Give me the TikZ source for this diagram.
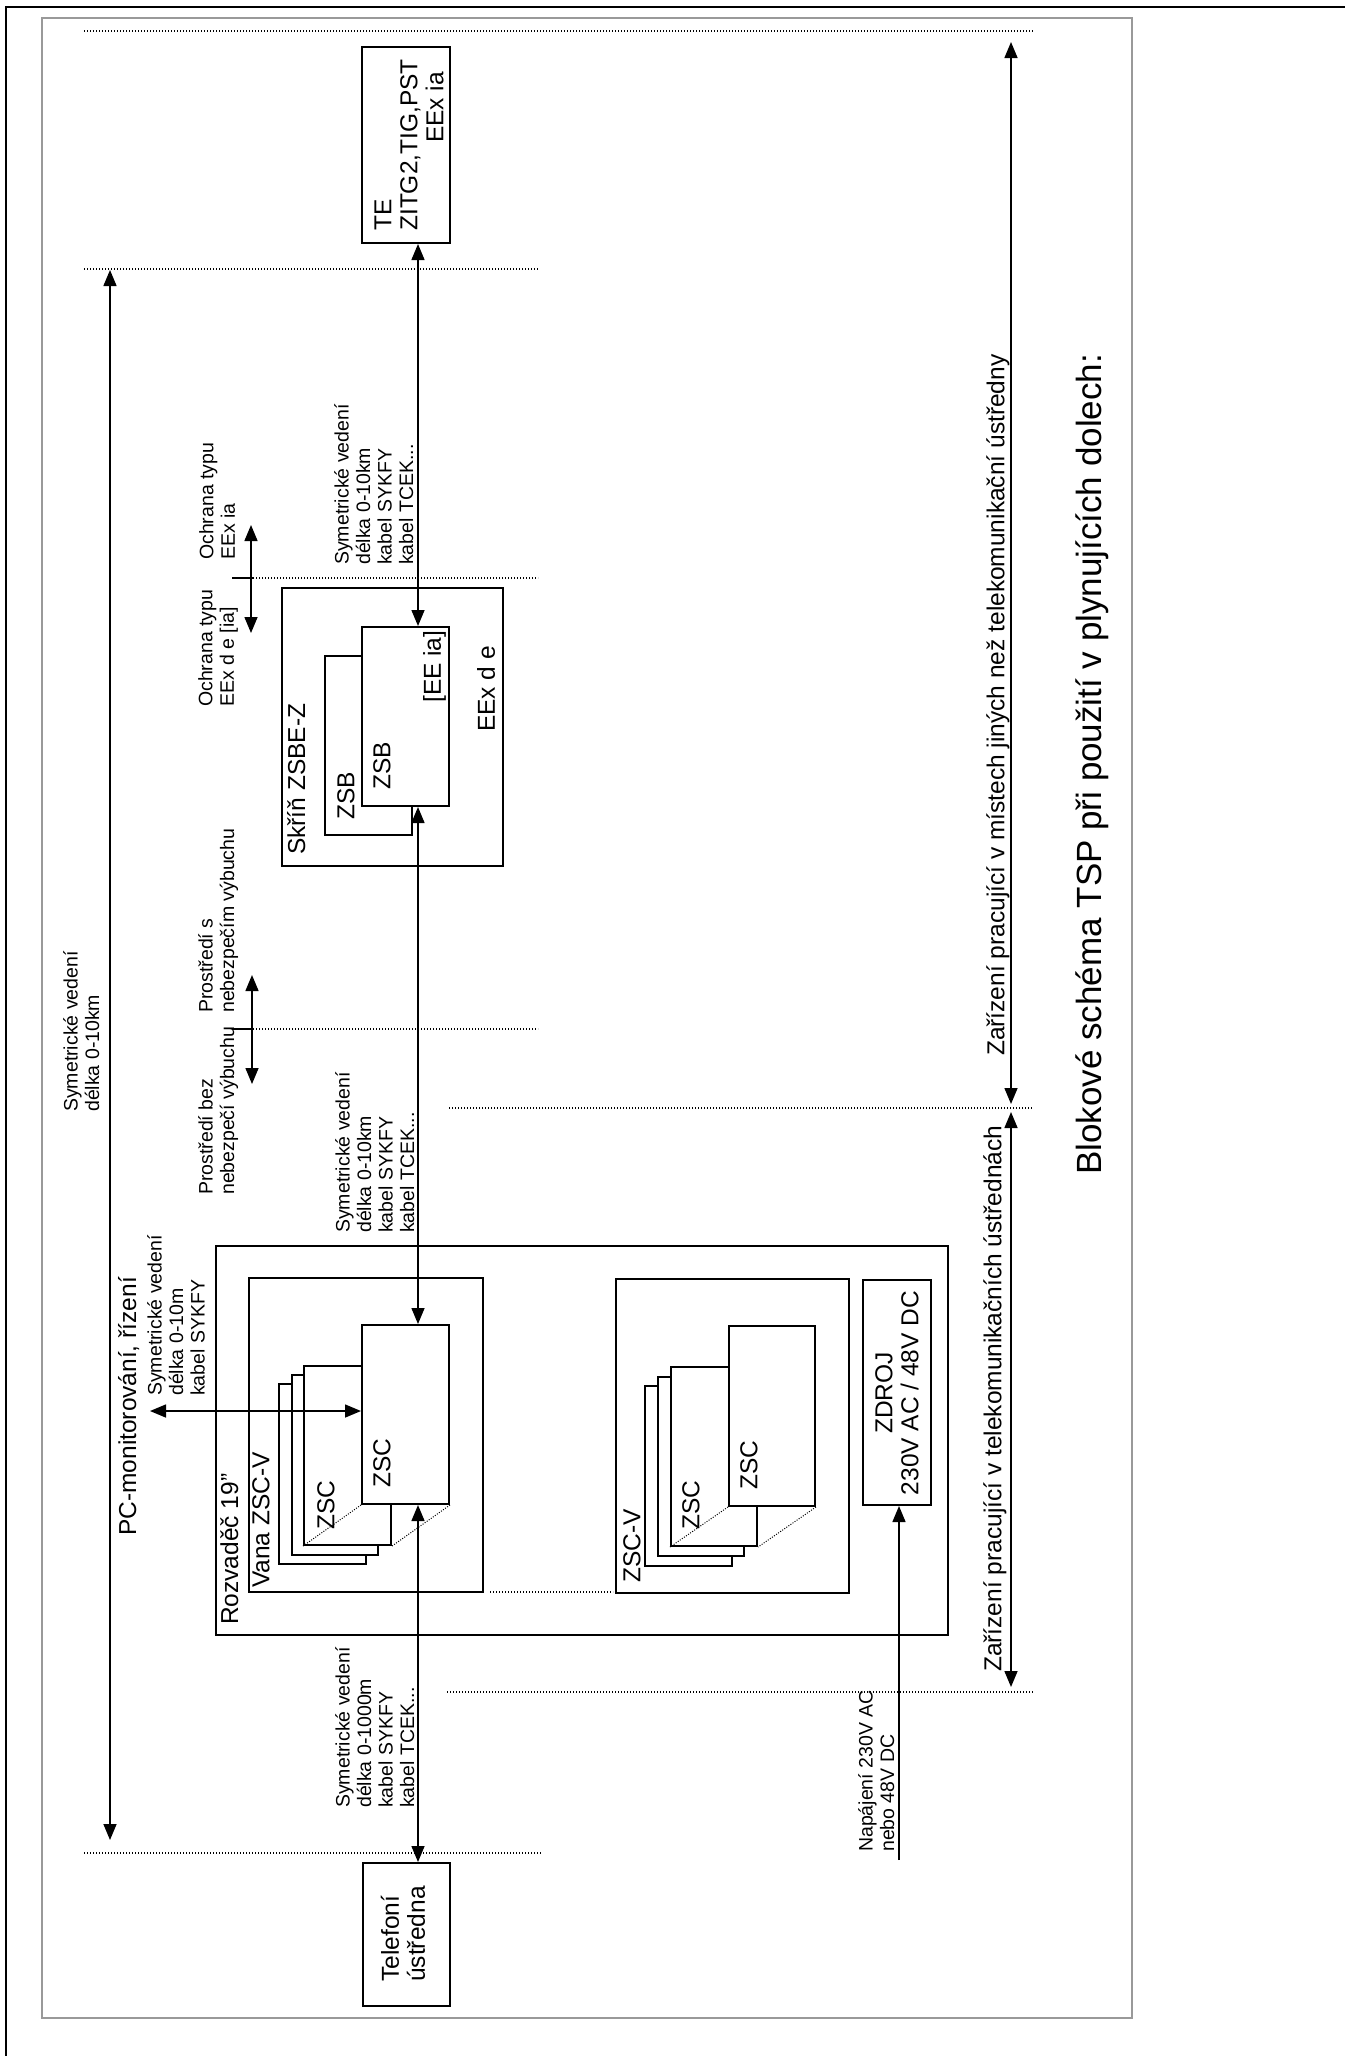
\documentclass[tikz,border=0pt]{standalone}
\usepackage{fontspec}
\setmainfont{Liberation Sans}
\usetikzlibrary{arrows.meta,fit}
\begin{document}
\begin{tikzpicture}[x=1pt,y=-1pt,
  box/.style={draw=black, line width=2pt, inner sep=0pt, fill=white},
  bigbox/.style={draw=black, line width=2pt, inner sep=0pt},
  ln/.style={line width=1.5pt},
  mytri/.tip={Triangle[length=16pt,width=13pt]},
  arr/.style={ln, mytri-mytri},
  arrend/.style={ln, -mytri},
  dotl/.style={line width=1.3pt, dash pattern=on 1.3pt off 1.7pt},
  thindot/.style={line width=1pt, dash pattern=on 1pt off 1.5pt},
  tickl/.style={line width=2pt},
  txtM/.style={rotate=90, anchor=north west, inner sep=0pt, align=left, font=\fontsize{19.5}{21.5}\selectfont},
  txtL/.style={rotate=90, anchor=north west, inner sep=0pt, align=left, font=\fontsize{24.5}{26}\selectfont},
  txtC/.style={rotate=90, anchor=center, inner sep=0pt, font=\fontsize{24.5}{26}\selectfont},
  txtT/.style={rotate=90, anchor=north west, inner sep=0pt, font=\fontsize{35}{40}\selectfont},
]
\useasboundingbox (0,0) rectangle (1345,2056);

% frames
\draw[draw=black!40, line width=1.3pt] (42,18) rectangle (1132,2018);
\draw[line width=2.3pt] (6,2056) -- (6,7) -- (1345,7);

% dotted separators
\draw[dotl] (84,31) -- (1033,31);
\draw[dotl] (84,269) -- (538,269);
\draw[dotl] (253,578) -- (538,578);
\draw[tickl] (232,578) -- (253,578);
\draw[dotl] (253,1029) -- (538,1029);
\draw[tickl] (232,1029) -- (253,1029);
\draw[dotl] (449,1108) -- (1033,1108);
\draw[dotl] (490,1592) -- (613,1592);
\draw[dotl] (447,1692) -- (1033,1692);
\draw[dotl] (84,1853) -- (541,1853);

% boxes
\node[box, fit={(362,47)(450,243)}] (te) {};
\node[box, fit={(363,1863)(450,2006)}] (tel) {};
\node[bigbox, fit={(282,588)(503,866)}] (zsbe) {};
\node[box, fit={(325,656)(412,835)}] (zsbB) {};
\node[box, fit={(362,627)(449,806)}] (zsbA) {};
\node[bigbox, fit={(216,1246)(948,1635)}] (rozv) {};
\node[bigbox, fit={(249,1278)(483,1592)}] (vana) {};
\node[bigbox, fit={(616,1279)(849,1593)}] (zscv) {};
\node[box, fit={(863,1280)(931,1505)}] (zdroj) {};

% stack 1
\node[box, fit={(279,1384)(366,1564)}] (zscD) {};
\node[box, fit={(292,1375)(378,1555)}] (zscC) {};
\node[box, fit={(304,1366)(391,1545)}] (zscB) {};
\node[box, fit={(362,1325)(449,1504)}] (zscA) {};
\draw[thindot] (zscA.south west) -- (zscB.south west);
\draw[thindot] (zscA.south east) -- (zscB.south east);

% stack 2
\node[box, fit={(645,1386)(732,1566)}] (zscDb) {};
\node[box, fit={(658,1377)(744,1556)}] (zscCb) {};
\node[box, fit={(671,1367)(757,1546)}] (zscBb) {};
\node[box, fit={(729,1326)(815,1506)}] (zscAb) {};
\draw[thindot] (zscAb.south west) -- (zscBb.south west);
\draw[thindot] (zscAb.south east) -- (zscBb.south east);

% box texts
\node[txtC, align=left] (telab) at (409,145) {TE\\ZITG2,TIG,PST\\\hspace*{88pt}EEx ia};
\node[txtC, align=left] (tellab) at (403,1934) {Telefoní\\ústředna};
\node[txtC, align=center] (zdlab) at (897,1393) {ZDROJ\\230V AC / 48V DC};
\node[txtL] (skrin) at (287,855) {Skříň ZSBE-Z};
\node[txtL] (zsbBl) at (337,820) {ZSB};
\node[txtL] (zsbAl) at (373,790) {ZSB};
\node[txtL] (eeia) at (423,703) {[EE ia]};
\node[txtL] (eexde) at (477,732) {EEx d e};
\node[txtL] (rozvl) at (220,1625) {Rozvaděč 19"};
\node[txtL] (vanal) at (252,1588) {Vana ZSC-V};
\node[txtL] (zscvl) at (623,1583) {ZSC-V};
\node[txtL] (zscBl) at (317,1530) {ZSC};
\node[txtL] (zscAl) at (373,1488) {ZSC};
\node[txtL] (zscBbl) at (682,1530) {ZSC};
\node[txtL] (zscAbl) at (740,1490) {ZSC};
\node[txtL] (pcl) at (118,1536) {PC-monitorování, řízení};
\node[txtL] (zar1) at (986,1056) {Zařízení pracující v místech jiných než telekomunikační ústředny};
\node[txtL] (zar2) at (983,1672) {Zařízení pracující v telekomunikačních ústřednách};
\node[txtT] (title) at (1076,1175) {Blokové schéma TSP při použití v plynujících dolech:};

% medium texts
\node[txtM] (m1) at (63,1112) {Symetrické vedení\\délka 0-10km};
\node[txtM] (m2) at (198,1013) {Prostředí s\\nebezpečím výbuchu};
\node[txtM] (m3) at (198,1195) {Prostředí bez\\nebezpečí výbuchu};
\node[txtM] (m4) at (198,707) {Ochrana typu\\EEx d e [ia]};
\node[txtM] (m5) at (199,560) {Ochrana typu\\EEx ia};
\node[txtM] (m6) at (334,565) {Symetrické vedení\\délka 0-10km\\kabel SYKFY\\kabel TCEK...};
\node[txtM] (m7) at (335,1233) {Symetrické vedení\\délka 0-10km\\kabel SYKFY\\kabel TCEK...};
\node[txtM] (m8) at (335,1808) {Symetrické vedení\\délka 0-1000m\\kabel SYKFY\\kabel TCEK...};
\node[txtM] (m9) at (147,1396) {Symetrické vedení\\délka 0-10m\\kabel SYKFY};
\node[txtM] (m10) at (858,1852) {Napájení 230V AC\\nebo 48V DC};

% connectors
\coordinate (vx) at (418,0);
\draw[arr] (te.south -| vx) -- (zsbA.north -| vx);
\draw[arr] (zsbA.south -| vx) -- (zscA.north -| vx);
\draw[arr] (zscA.south -| vx) -- (tel.north -| vx);
\coordinate (pcend) at (150,1411);
\draw[arr] (pcend) -- (pcend -| zscA.west);
\coordinate (napb) at (899,1860);
\draw[arrend] (napb) -- (napb |- zdroj.south);
\coordinate (la1) at (110,270);
\coordinate (la2) at (110,1840);
\draw[arr] (la1) -- (la2);
\coordinate (ra1) at (1011,42);
\coordinate (ra2) at (1011,1104);
\coordinate (ra3) at (1011,1112);
\coordinate (ra4) at (1011,1687);
\draw[arr] (ra1) -- (ra2);
\draw[arr] (ra3) -- (ra4);
\coordinate (o1) at (251,525);
\coordinate (o2) at (251,633);
\draw[arr] (o1) -- (o2);
\coordinate (p1) at (252,975);
\coordinate (p2) at (252,1084);
\draw[arr] (p1) -- (p2);
\end{tikzpicture}
\end{document}
